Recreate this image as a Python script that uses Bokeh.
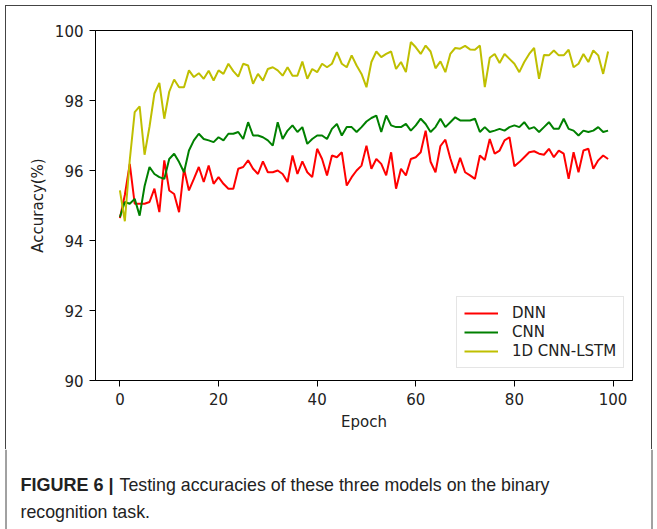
from bokeh.plotting import figure
from bokeh.layouts import column
from bokeh.models import Range1d, Legend, LegendItem, FixedTicker
from bokeh.core.properties import value
from bokeh.embed import file_html
from bokeh.resources import INLINE

epochs = list(range(100))

dnn = [94.64, 95.30, 96.19, 95.05, 95.05, 95.05, 95.10, 95.48, 94.81, 96.29,
       95.43, 95.33, 94.81, 96.05, 95.43, 95.76, 96.10, 95.67, 96.14, 95.62,
       95.81, 95.62, 95.48, 95.48, 96.05, 96.10, 96.29, 96.05, 95.90, 96.26,
       95.95, 95.95, 96.00, 95.90, 95.67, 96.43, 95.90, 96.26, 95.95, 95.81,
       96.62, 96.33, 95.86, 96.43, 96.38, 96.52, 95.57, 95.81, 96.00, 96.14,
       96.71, 96.05, 96.33, 96.19, 95.86, 96.52, 95.48, 96.05, 95.86, 96.33,
       96.38, 96.52, 97.14, 96.25, 95.95, 96.70, 96.88, 96.35, 95.92, 96.36,
       95.95, 95.86, 95.76, 96.43, 96.30, 96.90, 96.48, 96.57, 96.86, 96.95,
       96.12, 96.24, 96.38, 96.52, 96.55, 96.48, 96.45, 96.62, 96.38, 96.57,
       96.48, 95.76, 96.52, 95.95, 96.57, 96.62, 96.05, 96.29, 96.43, 96.33]

cnn = [94.67, 95.10, 95.05, 95.19, 94.71, 95.55, 96.10, 95.90, 95.81, 95.76,
       96.33, 96.48, 96.24, 95.95, 96.57, 96.86, 97.05, 96.90, 96.86, 96.81,
       96.95, 96.86, 97.05, 97.05, 97.10, 96.90, 97.38, 97.00, 97.00, 96.95,
       96.86, 96.71, 97.38, 96.90, 97.14, 97.29, 97.10, 97.24, 96.76, 96.90,
       97.00, 97.00, 96.90, 97.19, 97.33, 97.00, 97.24, 97.24, 97.10, 97.24,
       97.40, 97.50, 97.57, 97.10, 97.57, 97.29, 97.24, 97.24, 97.33, 97.14,
       97.29, 97.48, 97.33, 97.10, 97.24, 97.48, 97.24, 97.38, 97.52, 97.43,
       97.43, 97.43, 97.48, 97.10, 97.24, 97.10, 97.14, 97.19, 97.14, 97.24,
       97.29, 97.24, 97.38, 97.19, 97.24, 97.10, 97.24, 97.38, 97.19, 97.19,
       97.48, 97.19, 97.14, 97.00, 97.14, 97.10, 97.14, 97.24, 97.10, 97.14]

cnn_lstm = [95.43, 94.55, 96.30, 97.67, 97.83, 96.45, 97.25, 98.20, 98.50, 97.48,
            98.25, 98.60, 98.38, 98.38, 98.86, 98.67, 98.78, 98.62, 98.85, 98.57,
            98.86, 98.76, 99.05, 98.84, 98.68, 99.05, 99.00, 98.48, 98.76, 98.57,
            98.90, 98.95, 98.86, 98.71, 98.95, 98.71, 98.71, 99.11, 98.62, 98.90,
            98.81, 99.05, 98.95, 99.05, 99.38, 99.05, 98.95, 99.29, 99.00, 98.76,
            98.38, 99.10, 99.40, 99.24, 99.33, 99.40, 98.90, 99.10, 98.81, 99.67,
            99.52, 99.33, 99.57, 99.40, 98.92, 99.12, 98.81, 99.33, 99.50, 99.48,
            99.56, 99.46, 99.45, 99.57, 98.38, 99.22, 99.33, 99.07, 99.33, 99.19,
            99.05, 98.81, 99.10, 99.33, 99.50, 98.62, 99.30, 99.29, 99.43, 99.29,
            99.29, 99.45, 98.95, 99.05, 99.33, 99.10, 99.43, 99.29, 98.76, 99.40]

series_names = ["DNN", "CNN", "1D CNN-LSTM"]
series_colors = ["#ff0000", "#008000", "#bfbf00"]
x_ticks = [0, 20, 40, 60, 80, 100]
y_ticks = [90, 92, 94, 96, 98, 100]
x_label = "Epoch"
y_label = "Accuracy(%)"
caption_bold = "FIGURE 6 |"
caption_line1 = "Testing accuracies of these three models on the binary"
caption_line2 = "recognition task."

W = 657
H_CHART = 449
H_CAP = 80
FONT = "DejaVu Sans"
FS = "15px"
BORDER = "#444444"

p = figure(width=W, height=H_CHART, output_backend="svg", toolbar_location=None,
           x_range=Range1d(-4.95, 103.95), y_range=Range1d(90, 100),
           min_border_left=95, min_border_right=25, min_border_top=30,
           min_border_bottom=69)
p.background_fill_color = "white"
p.border_fill_color = None
p.outline_line_color = "black"
p.outline_line_width = 1
p.xgrid.visible = False
p.ygrid.visible = False
# thin outer figure border drawn behind the (transparent) plot margin
p.styles = {"box-shadow": ("inset 5px 0 0 0 white, inset -5px 0 0 0 white, "
                           "inset 0 5px 0 0 white, "
                           "inset 6px 0 0 0 %s, inset -6px 0 0 0 %s, inset 0 6px 0 0 %s"
                           % (BORDER, BORDER, BORDER))}

p.xaxis.ticker = FixedTicker(ticks=x_ticks)
p.yaxis.ticker = FixedTicker(ticks=y_ticks)
for ax in (p.xaxis, p.yaxis):
    ax.axis_line_color = "black"
    ax.major_tick_line_color = "black"
    ax.major_tick_out = 6
    ax.major_tick_in = 0
    ax.minor_tick_line_color = None
    ax.major_label_text_font = FONT
    ax.major_label_text_font_size = FS
    ax.major_label_text_color = "#222222"
    ax.axis_label_text_font = FONT
    ax.axis_label_text_font_size = FS
    ax.axis_label_text_font_style = "normal"
    ax.axis_label_text_color = "#222222"
    ax.major_label_standoff = 6
p.xaxis.axis_label_standoff = 5
p.yaxis.axis_label_standoff = 5
p.xaxis.axis_label = x_label
p.yaxis.axis_label = y_label

renderers = []
for ys, c in zip([dnn, cnn, cnn_lstm], series_colors):
    r = p.line(epochs, ys, line_color=c, line_width=2)
    renderers.append(r)

legend = Legend(items=[LegendItem(label=n, renderers=[r]) for n, r in zip(series_names, renderers)],
                location=(361, 12))
legend.border_line_color = "#cccccc"
legend.border_line_width = 1
legend.background_fill_alpha = 0.9
legend.label_text_font = FONT
legend.label_text_font_size = FS
legend.label_text_color = "#222222"
legend.glyph_width = 34
legend.glyph_height = 18
legend.label_standoff = 14
legend.spacing = 1
legend.padding = 7
legend.margin = 0
p.add_layout(legend)

# caption panel: data units equal pixels, y grows downward
cap = figure(width=W, height=H_CAP, output_backend="svg", toolbar_location=None,
             x_range=Range1d(0, W), y_range=Range1d(H_CAP, 0),
             min_border=0, min_border_left=0, min_border_right=0,
             min_border_top=0, min_border_bottom=0)
cap.axis.visible = False
cap.xgrid.visible = False
cap.ygrid.visible = False
cap.outline_line_color = None
cap.background_fill_color = "white"
cap.border_fill_color = "white"

for fig in (p, cap):
    try:
        fig.frame_align = False
    except Exception:
        pass

CAP_FONT = "Liberation Sans"
cap.text(x=[20], y=[35], text=[caption_bold], text_font=value(CAP_FONT),
         text_font_size="18px", text_font_style="bold", text_color="#222222",
         text_baseline="alphabetic")
cap.text(x=[119], y=[35], text=[caption_line1], text_font=value(CAP_FONT),
         text_font_size="17.8px", text_color="#222222", text_baseline="alphabetic")
cap.text(x=[20], y=[62], text=[caption_line2], text_font=value(CAP_FONT),
         text_font_size="17.8px", text_color="#222222", text_baseline="alphabetic")
# outer figure border continues down the caption panel
cap.segment(x0=[5.5, 651.5], y0=[0, 0], x1=[5.5, 651.5], y1=[H_CAP, H_CAP],
            line_color=BORDER, line_width=1)

layout = column(p, cap, spacing=0)

open("out.html", "w").write(file_html(layout, INLINE))
